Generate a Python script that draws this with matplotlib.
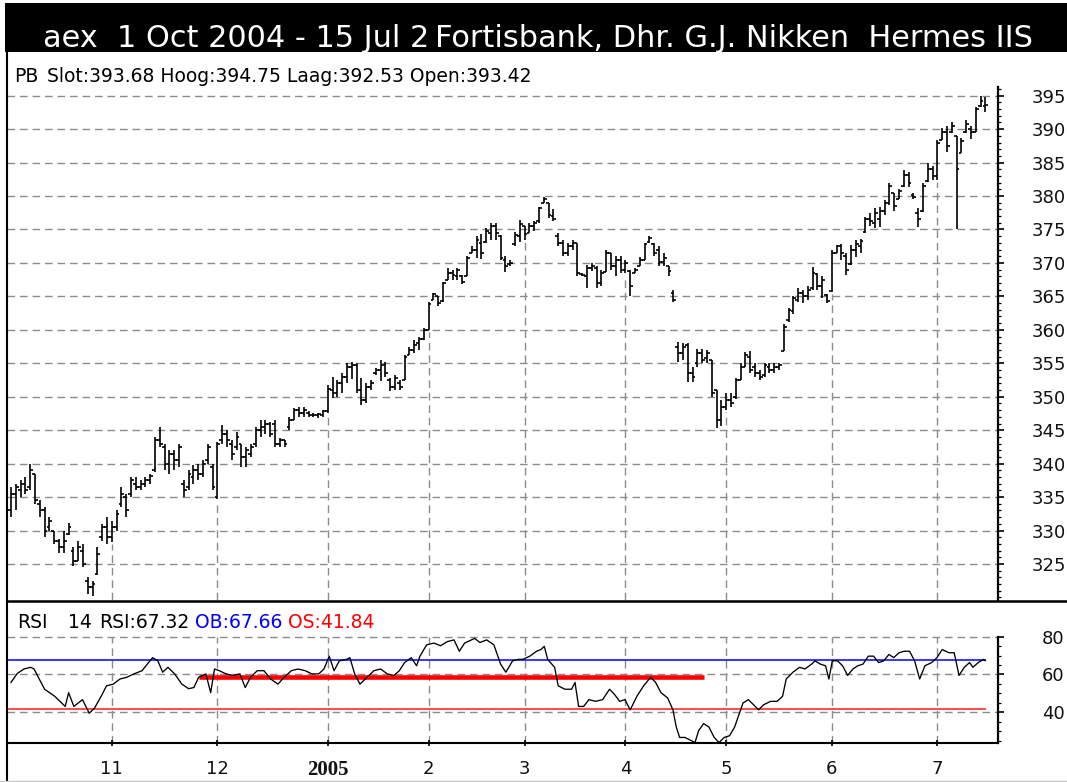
import matplotlib
matplotlib.use("Agg")
import matplotlib.pyplot as plt
from matplotlib.ticker import FixedLocator
from matplotlib.patches import Rectangle
from matplotlib.lines import Line2D
import numpy as np

# ---------------- data (AEX daily bars, 1 Oct 2004 - 15 Jul 2005) ----------------
low = [332, 333, 335, 335.5, 336, 334, 332, 329, 330, 328,
       326.6, 326.6, 329.3, 324.7, 325.5, 324.5, 320.5, 320.2, 323.4, 328.5,
       328, 328.3, 330, 333.5, 332, 335, 336, 336, 336.5, 337,
       338.8, 342.5, 339, 338.5, 339, 339.5, 335, 336, 337, 337.5,
       338, 340, 336, 334.7, 343, 342.5, 340.6, 342, 339.5, 339.5,
       341, 342.5, 344, 344.5, 344, 342.5, 342.5, 342.5, 345, 346.5,
       347, 347, 347, 347, 346.8, 347, 347.5, 349.8, 350, 350.5,
       352, 352.6, 350.5, 348.8, 349, 351, 353.3, 352.3, 353, 350.8,
       351, 351, 352.5, 356.3, 356.5, 357, 358.5, 360, 364.5, 363.5,
       364.2, 367.5, 367.5, 367.5, 366.8, 368, 371.5, 370.7, 370.6, 373,
       373.5, 373.4, 370.4, 368.6, 369.5, 372.6, 373.2, 373.5, 374.5, 374.8,
       376, 379, 376.7, 376.2, 372.5, 371, 371, 372, 368, 368,
       366.3, 368.8, 366.3, 366.5, 368.6, 369, 368, 368.5, 368.5, 365,
       368.5, 369.5, 370.5, 373, 371, 369.5, 369.5, 368, 364.2, 355.2,
       355.5, 352.2, 352.2, 354.5, 355, 355, 350, 345.3, 345.7, 348,
       348.5, 349.7, 352.5, 354.5, 353.5, 353, 352.5, 353, 353.5, 353.5,
       354, 356.8, 361.2, 362.3, 364.2, 364, 364.5, 366, 366, 364.8,
       364, 365.6, 371.5, 370.5, 368.2, 369.7, 370.9, 371.5, 374.5, 375.5,
       375.2, 375.4, 377.2, 378.6, 377.8, 379.5, 381.4, 381.4, 379.6, 375.4,
       377.6, 382.1, 382.4, 382.4, 388.4, 386.6, 389.4, 375, 386.4, 389.4,
       388.5, 389.6, 393.3, 392.53]
high = [336.5, 337, 337.5, 338, 339.9, 338.5, 334.5, 333.5, 332, 330,
        328.7, 330, 331.1, 327.5, 328.5, 328, 323, 322.5, 327.5, 331,
        332, 331.5, 333, 336.5, 335.5, 338, 338, 337.5, 338, 338.5,
        344, 345.5, 343, 342, 342, 343, 337.5, 339, 339.8, 340,
        340.5, 343, 340, 343.3, 345.8, 345, 343.5, 344.7, 343, 342.5,
        343, 345.5, 346.5, 346.5, 346.3, 346.5, 343.8, 343.5, 347, 348.3,
        348.5, 348.5, 347.8, 347.6, 347.5, 348, 351.7, 353, 352.5, 353.5,
        355, 355.2, 355, 352.8, 352, 352.5, 354.3, 355.5, 355.2, 352.8,
        353.3, 352.5, 356.3, 357.5, 358.5, 359, 360.3, 364.2, 365.5, 365,
        367.2, 369.3, 369, 369.3, 368.2, 371, 372.5, 374, 374.3, 375.2,
        376, 376, 374.2, 371, 370.5, 374.6, 376.4, 375.5, 376, 376.2,
        378.4, 379.9, 379, 378, 374.5, 373.5, 373, 373.5, 373, 368.5,
        369.7, 370, 369.5, 369, 372, 371.5, 371, 371, 370.5, 369,
        369.2, 370.9, 373, 374, 373, 372.5, 371.5, 369.6, 366, 358.2,
        358, 358, 354.5, 357.2, 357.2, 357, 355.5, 351, 349.5, 350.6,
        350.5, 352.8, 355, 356.7, 356.8, 355, 354, 355, 355, 355,
        355, 360.8, 363.3, 365, 366.3, 366, 366.5, 369.4, 368.5, 368,
        365.4, 372, 372.7, 372.8, 371.5, 372.7, 373.4, 373.6, 376.9, 377.5,
        378.2, 378.4, 379.4, 382, 380.5, 381, 383.9, 383.6, 380.4, 378.2,
        382, 385, 384.5, 388.4, 390.2, 390.4, 391, 389, 388.7, 391.3,
        390.5, 393.3, 395, 394.75]
opn = [333, 335.5, 336, 337, 336.5, 338.5, 334, 333, 330.5, 330,
       328.5, 327.5, 329.5, 327, 325.5, 327, 322.5, 321.5, 323.5, 329,
       330.5, 329, 330.5, 334, 335, 335.5, 337, 336.5, 337, 337.5,
       339, 343.5, 342.5, 340, 341.5, 340.5, 337, 336.5, 338, 339,
       338.5, 340.5, 339.5, 335, 343.5, 344.5, 343, 342.5, 343, 341,
       341.5, 343, 345, 345.5, 346, 346, 343, 343.5, 345.5, 346.5,
       348, 347.5, 347.5, 347.3, 347.2, 347.2, 347.8, 351, 350.5, 352,
       353, 354.5, 354.8, 351, 349.5, 351.5, 353.5, 354, 354.8, 352.5,
       351.5, 352, 352.5, 356.3, 357, 358, 358.6, 360, 364.5, 365,
       364.3, 367.5, 368.5, 368, 368, 368, 371.5, 372, 373, 373.2,
       374.5, 375.5, 374, 370.5, 369.8, 372.8, 374, 375.5, 374.5, 375.5,
       376.2, 379, 379, 377, 374, 373, 371.5, 372.5, 373, 368.3,
       368, 369.2, 369.3, 367, 368.6, 371.5, 369.5, 370.5, 369, 368.8,
       368.5, 369.5, 370.5, 373.2, 372.8, 372, 370.2, 369.5, 365.5, 357.5,
       356.5, 357.8, 353.5, 355, 356.5, 355.8, 355.5, 351, 346.5, 348.5,
       349.5, 350, 352.5, 354.5, 356, 354.5, 353.5, 353.2, 354.5, 354,
       354.5, 356.8, 361.5, 362.8, 364.5, 365.5, 365, 366.3, 368.3, 366.5,
       365.2, 365.8, 371.5, 372.5, 371, 369.8, 372, 372.5, 374.6, 376.5,
       376, 376.5, 377.8, 379, 380.5, 379.5, 381.5, 383.2, 380.2, 377.5,
       377.8, 382.2, 384, 383, 388.4, 389.5, 389.5, 389, 386.5, 389.5,
       390, 389.6, 393.5, 393.42]
close = [335.5, 336.5, 337, 336, 339, 334.5, 333, 330, 331.5, 328.5,
         327.5, 328.5, 330.5, 325.5, 327.5, 325, 321.5, 322, 326.5, 330.5,
         329, 330.5, 332.5, 335.5, 333, 337.5, 336.5, 337, 337.5, 338.2,
         343.5, 343, 340, 341.5, 340.5, 342.5, 336, 338.5, 339, 338.5,
         340, 342.5, 336.5, 343, 344.5, 343.5, 341.5, 344, 341, 342,
         342.5, 345, 345.5, 346, 344.5, 343, 343.5, 343, 346.5, 348,
         347.5, 348, 347.3, 347.2, 347.4, 347.8, 351.2, 350.5, 352, 353,
         354.5, 354.8, 351, 349.5, 351.5, 352, 354, 354.8, 353.5, 351.5,
         352.8, 351.5, 356, 357, 357.8, 358.6, 360, 363.8, 365.3, 364,
         367, 368.5, 368.2, 369, 367.2, 370.8, 372, 373.5, 371.5, 374.8,
         375.5, 374.5, 370.8, 369.5, 370, 374.2, 375.8, 374.3, 375.5, 376,
         378.2, 379.6, 377.2, 376.5, 373, 371.5, 372.5, 373, 368.5, 368.2,
         369.2, 369.5, 367, 368.5, 371.5, 369.5, 370.5, 369, 370, 366.5,
         369, 370.5, 372.8, 373.8, 371.5, 370.2, 370.8, 368.8, 364.5, 356.5,
         357.5, 353.5, 353, 356.5, 355.5, 356.5, 350.5, 346.5, 348.5, 349.5,
         349, 352.5, 354.5, 356.2, 354, 353.5, 353, 354.7, 354, 354.5,
         354.8, 360.5, 363, 364.7, 365.5, 365, 366, 368.5, 366.5, 367.5,
         364.3, 371.5, 372.5, 371.5, 369, 372, 372.8, 373.3, 376.5, 376.2,
         377.5, 377.8, 379, 381.5, 378.5, 380.8, 383.2, 382, 379.8, 376.5,
         381.5, 384, 383, 388, 389.5, 387.5, 390.5, 384, 388.2, 390.8,
         389.5, 393, 394.2, 393.68]

# RSI(14) (position in trading days, value)
rsi_x = [0, 1.3, 2.7, 4.1, 4.8, 7.0, 9.1, 11.3, 12.0, 13.1, 14.9, 16.3, 17.4, 18.8,
         19.9, 21.3, 22.7, 24.1, 25.6, 27.3, 28.4, 29.5, 30.6, 31.6, 32.7, 34.1, 35.6,
         37.0, 38.1, 39.1, 40.6, 41.6, 42.4, 43.4, 44.8, 46.3, 47.7, 48.8, 49.9, 51.3,
         52.7, 54.1, 55.6, 56.9, 58.4, 59.8, 61.3, 62.7, 64.1, 65.2, 66.3, 67.3, 68.4,
         69.9, 70.6, 71.6, 72.7, 73.8, 75.6, 77.0, 78.4, 79.8, 80.9, 82.0, 83.4, 84.5,
         85.2, 86.6, 88.1, 89.5, 90.9, 92.3, 93.4, 94.5, 96.6, 97.7, 99.1, 100.6, 102.0,
         103.1, 104.5, 105.6, 106.6, 108.1, 109.5,
         110.4, 111.1, 111.8, 113.25, 114.0, 115.4, 116.8, 117.5, 118.25, 119.3, 120.4,
         121.8, 123.25, 124.7, 125.75, 126.8, 127.9, 129.0, 130.4, 131.8, 133.25, 134.3,
         135.4, 136.8, 137.9, 138.6, 139.3, 140.4, 141.8, 142.5, 143.25, 144.3, 145.4,
         146.5, 147.5, 148.6, 149.7, 150.75, 151.5, 152.5, 153.6, 154.7, 155.75, 156.8,
         158.25, 159.6, 160.75, 161.5, 162.9, 164.3, 165.4, 166.8, 167.5, 168.6, 169.7,
         170.4, 171.1, 172.2, 173.25, 174.3, 175.4, 176.4, 177.5, 178.6, 179.7, 180.75,
         181.8, 182.9, 183.9, 185.0, 186.1, 187.2, 188.25, 189.3, 190.4, 191.8, 192.9,
         194.0, 195.4, 196.5, 197.5, 198.6, 199.7, 200.4, 201.5, 202.6, 203.0]
rsi_v = [55.8, 60.5, 62.9, 63.8, 62.9, 52.2, 48.5, 43.1, 50.4, 43.1, 46.7, 39.5, 42.2, 48.5,
         54.0, 54.9, 57.6, 58.5, 60.3, 62.0, 65.5, 68.9, 67.2, 61.2, 63.8, 60.3, 54.9,
         52.5, 53.1, 58.5, 60.3, 50.4, 62.9, 62.0, 60.3, 59.5, 60.3, 53.1, 58.5, 62.0,
         62.0, 57.6, 54.9, 58.5, 62.0, 62.9, 62.0, 60.3, 60.3, 62.9, 69.7, 62.0, 67.2,
         68.0, 68.9, 60.3, 54.9, 57.6, 62.0, 62.9, 60.3, 59.5, 62.0, 66.3, 68.9, 64.6,
         69.7, 75.7, 76.6, 75.2, 77.4, 78.3, 72.3, 76.6, 79.1, 76.9, 78.3, 75.7, 65.5,
         61.2, 67.2, 68.0, 68.0, 69.7, 72.3,
         73.2, 74.9, 68.0, 63.8, 54.0, 52.2, 52.2, 55.8, 43.1, 43.1, 46.7,
         45.8, 46.7, 52.2, 49.4, 45.8, 46.7, 41.3, 48.5, 54.0, 58.5, 55.8,
         50.4, 47.6, 41.3, 32.2, 26.7, 26.7, 24.9, 24.0, 30.3, 34.0, 32.2,
         26.7, 24.0, 26.7, 27.6, 32.2, 37.6, 44.9, 46.7, 44.0, 41.3, 44.0,
         45.8, 45.8, 48.5, 57.6, 61.2, 63.8, 62.9, 65.5, 67.2, 65.5, 64.6,
         57.6, 67.2, 67.2, 64.6, 59.5, 62.9, 64.6, 65.5, 69.7, 69.7, 66.3,
         67.2, 70.6, 68.9, 71.5, 72.3, 72.3, 67.2, 57.6, 64.6, 66.3, 68.9,
         73.2, 71.5, 71.5, 59.5, 63.8, 66.3, 63.8, 66.3, 68.0, 67.32]

ob_level = 67.66
os_level = 41.84
support_level = 58.6
support_start, support_end = 39.1, 144.3

month_idx = [21, 43, 66, 87, 107, 128, 149, 171, 193]
month_lbl = ['11', '12', '2005', '2', '3', '4', '5', '6', '7']
price_ticks = list(range(325, 400, 5))
rsi_ticks = [40, 60, 80]

title_left = "aex  1 Oct 2004 - 15 Jul 2"
title_right = "Fortisbank, Dhr. G.J. Nikken  Hermes IIS"

# ---------------- layout ----------------
W, H = 1067, 782
fig = plt.figure(figsize=(W / 100, H / 100), dpi=100)
fig.patch.set_facecolor('white')


def fx(px):
    return px / W


def fy(py):
    return 1 - py / H


X_LEFT, X_RIGHT = -0.83, 205.56
P_LO, P_HI = 319.62, 401.38
R_LO, R_HI = 23.6, 98.5

ax_p = fig.add_axes([fx(7), fy(600), fx(997.7) - fx(7), fy(53) - fy(600)])
ax_r = fig.add_axes([fx(7), fy(743.3), fx(997.7) - fx(7), fy(601.7) - fy(743.3)])

GRID = dict(color='#8c8c8c', lw=1.0, linestyle=(0, (5.5, 3.5)), zorder=1)

for ax in (ax_p, ax_r):
    ax.patch.set_alpha(0)
    ax.set_xlim(X_LEFT, X_RIGHT)
    for s in ('left', 'top', 'bottom'):
        ax.spines[s].set_visible(False)
    ax.spines['right'].set_linewidth(1.6)
    ax.yaxis.tick_right()

# ---- price panel ----
ax_p.set_ylim(P_LO, P_HI)
for v in price_ticks:
    ax_p.axhline(v, **GRID)
ax_p.vlines(month_idx, P_LO, [low[i] - 0.3 for i in month_idx], **GRID)

idx = np.arange(len(close))
bar_kw = dict(color='black', lw=1.2, zorder=3)
lc = ax_p.vlines(idx, low, high, **bar_kw)
lc.set_capstyle('butt')
ax_p.hlines(opn, idx - 0.6, idx, **bar_kw)
ax_p.hlines(close, idx, idx + 0.6, **bar_kw)

ax_p.spines['right'].set_bounds(P_LO, 396.3)
ax_p.set_yticks(price_ticks)
ax_p.yaxis.set_minor_locator(FixedLocator(list(range(320, 397))))
ax_p.tick_params(axis='y', which='major', length=4, width=1.2, pad=20.4,
                 labelsize=13, labelcolor='#111111')
ax_p.tick_params(axis='y', which='minor', length=2, width=0.9)
for lab in ax_p.get_yticklabels():
    lab.set_family('DejaVu Sans')
ax_p.set_xticks([])

# ---- RSI panel ----
ax_r.set_ylim(R_LO, R_HI)
for v in rsi_ticks:
    ax_r.axhline(v, **GRID)
ax_r.vlines(month_idx, R_LO, 80, **GRID)
ax_r.hlines(ob_level, X_LEFT, 203.1, color='#0000ff', lw=1.1, zorder=2)
ax_r.hlines(os_level, X_LEFT, 203.1, color='#ff1a1a', lw=1.1, zorder=2)
ax_r.hlines(support_level, support_start, support_end, color='#ff0000', lw=3.3, zorder=2)
n = min(len(rsi_x), len(rsi_v))
ax_r.plot(rsi_x[:n], rsi_v[:n], color='black', lw=0.95, zorder=4)

ax_r.spines['right'].set_bounds(R_LO, 80)
ax_r.spines['bottom'].set_visible(True)
ax_r.spines['bottom'].set_linewidth(1.5)
ax_r.set_yticks(rsi_ticks)
ax_r.yaxis.set_minor_locator(FixedLocator([25, 30, 35, 45, 50, 55, 65, 70, 75]))
ax_r.tick_params(axis='y', which='major', length=4, width=1.2, pad=27.6,
                 labelsize=13, labelcolor='#111111')
ax_r.tick_params(axis='y', which='minor', length=2.5, width=0.9)
ax_r.set_xticks(month_idx)
ax_r.set_xticklabels(month_lbl)
ax_r.tick_params(axis='x', direction='inout', length=4.3, width=1.2, pad=10,
                 labelsize=13, labelcolor='#111111')
for lab in ax_r.get_xticklabels():
    if lab.get_text() == '2005':
        lab.set_family('Liberation Serif')
        lab.set_fontweight('bold')
        lab.set_fontsize(15)

# ---------------- frame / title ----------------
fig.add_artist(Rectangle((fx(5), fy(52)), 1 - fx(5), fy(3) - fy(52),
                         transform=fig.transFigure, facecolor='black',
                         edgecolor='none', zorder=0))
fig.add_artist(Line2D([fx(6.5), fx(6.5)], [fy(52), fy(782)], color='black', lw=1.5))
fig.add_artist(Line2D([fx(6.5), 1], [fy(601), fy(601)], color='black', lw=1.8))
fig.add_artist(Line2D([0, 1], [fy(780.5), fy(780.5)], color='#c8c8c8', lw=1.0))

fig.text(fx(43), fy(47.3), title_left, color='white', fontsize=21.9,
         family='DejaVu Sans', ha='left', va='baseline')
fig.text(fx(435), fy(47.3), title_right, color='white', fontsize=21.9,
         family='DejaVu Sans', ha='left', va='baseline')

hdr = dict(fontsize=13.5, family='DejaVu Sans', ha='left', va='center')
fig.text(fx(14), fy(76), "PB", color='black', **hdr)
fig.text(fx(47), fy(76),
         f"Slot:{close[-1]:.2f} Hoog:{high[-1]:.2f} Laag:{low[-1]:.2f} Open:{opn[-1]:.2f}",
         color='black', **hdr)

fig.text(fx(17), fy(622), "RSI", color='black', **hdr)
fig.text(fx(68), fy(622), "14", color='black', **hdr)
fig.text(fx(99), fy(622), f"RSI:{rsi_v[n - 1]:.2f}", color='black', **hdr)
fig.text(fx(195), fy(622), f"OB:{ob_level:.2f}", color='#0000ff', **hdr)
fig.text(fx(288), fy(622), f"OS:{os_level:.2f}", color='#ff0000', **hdr)

fig.savefig("out.png", dpi=100, facecolor='white')
